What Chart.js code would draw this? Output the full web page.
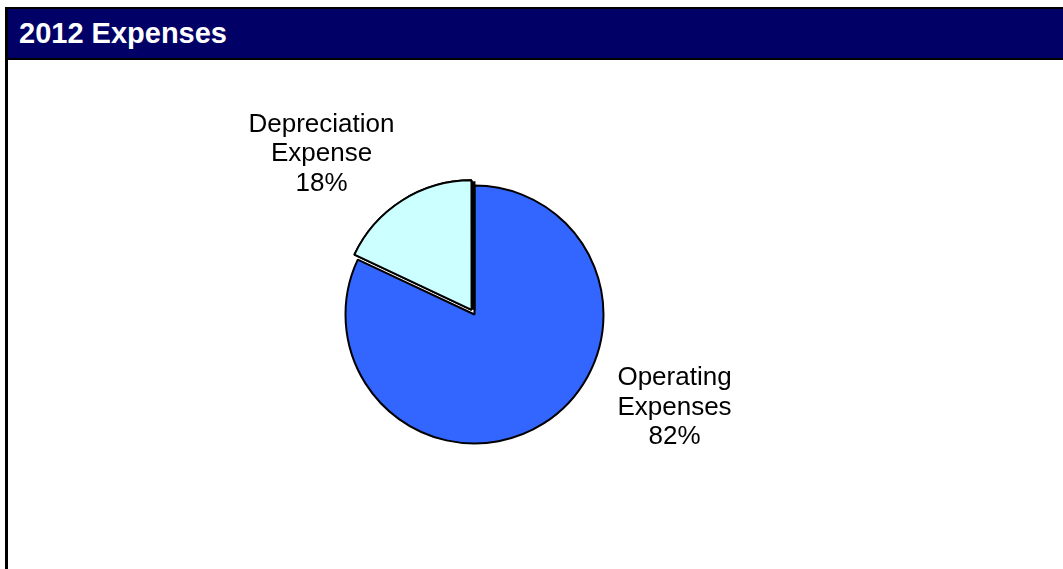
<!DOCTYPE html>
<html>
<head>
<meta charset="utf-8">
<script src="https://cdn.jsdelivr.net/npm/chart.js@4"></script>
<style>
  html, body { margin: 0; padding: 0; background: #fff; overflow: hidden; }
  .frame {
    position: absolute; left: 5px; top: 7px; width: 1100px; height: 600px;
    border-left: 3px solid #000; border-top: 2px solid #000;
  }
  .header {
    height: 49px; background: #000066; border-bottom: 2px solid #000;
    color: #fff; font: bold 29px Arial, "Liberation Sans", sans-serif;
    line-height: 49px; padding-left: 11px; white-space: nowrap;
  }
  #grafica { position: absolute; left: 8px; top: 60px; }
</style>
</head>
<body>
<div class="frame"><div class="header">2012 Expenses</div></div>
<canvas id="grafica" width="1055" height="509"></canvas>
<script>
const categorias = ['Operating Expenses', 'Depreciation Expense'];
const etiquetas = [['Operating', 'Expenses'], ['Depreciation', 'Expense']];
const valores = [82, 18];
const colores = ['#3366ff', '#ccffff'];

// label anchors relative to the pie centre (first baseline), per slice
const posEtiquetas = [{ dx: 200, dy: 70.5 }, { dx: -153, dy: -183 }];

const etiquetasPlugin = {
  id: 'etiquetas',
  afterDatasetsDraw(chart) {
    const ctx = chart.ctx;
    const meta = chart.getDatasetMeta(0);
    const total = valores.reduce((a, b) => a + b, 0);
    ctx.save();
    ctx.font = '26px Arial, "Liberation Sans", sans-serif';
    ctx.fillStyle = '#000';
    ctx.textAlign = 'center';
    ctx.textBaseline = 'alphabetic';
    meta.data.forEach((arc, i) => {
      const p = posEtiquetas[i];
      const lineas = etiquetas[i].concat([Math.round(valores[i] / total * 100) + '%']);
      lineas.forEach((t, j) => {
        ctx.fillText(t, arc.x + p.dx, arc.y + p.dy + j * 29.5);
      });
    });
    ctx.restore();
  }
};

// dark shadow on the exploded slice (fill only, then redraw it on top)
const sombraPlugin = {
  id: 'sombra',
  afterDatasetDraw(chart) {
    const ctx = chart.ctx;
    const arc = chart.getDatasetMeta(0).data[1];
    const bw = arc.options.borderWidth;
    ctx.save();
    ctx.shadowColor = '#000';
    ctx.shadowOffsetX = 4;
    ctx.shadowOffsetY = 1;
    ctx.shadowBlur = 0;
    arc.options.borderWidth = 0;
    arc.draw(ctx);
    ctx.restore();
    arc.options.borderWidth = bw;
    arc.draw(ctx);
  }
};

const ctx = document.getElementById('grafica').getContext('2d');
const chart = new Chart(ctx, {
  type: 'pie',
  data: {
    labels: categorias,
    datasets: [{
      data: valores,
      backgroundColor: colores,
      borderColor: '#000',
      borderWidth: 2,
      offset: [0, 22]
    }]
  },
  options: {
    responsive: false,
    animation: false,
    events: [],
    radius: 129,
    layout: { padding: { left: 0, right: 122, top: 0, bottom: 0 } },
    plugins: {
      legend: { display: false },
      tooltip: { enabled: false }
    }
  },
  plugins: [sombraPlugin, etiquetasPlugin]
});
</script>
</body>
</html>
